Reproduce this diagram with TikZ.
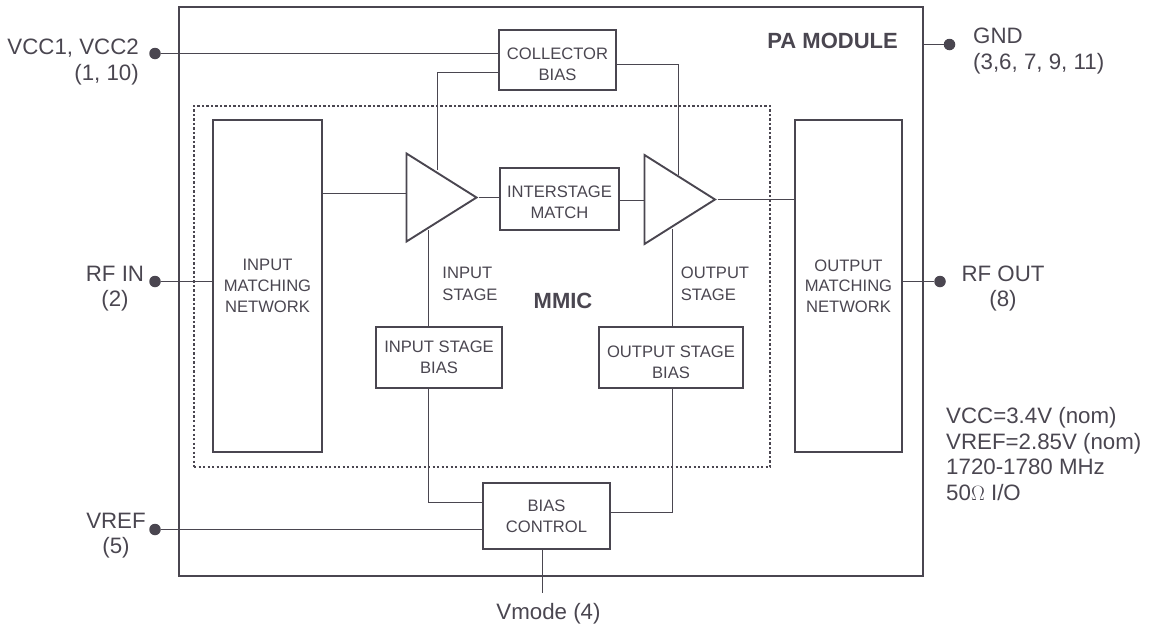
\documentclass[tikz,border=0pt]{standalone}
\usepackage{fontspec}
\setmainfont{Liberation Sans}
\usepackage{xcolor}
\usepackage{tikz}
\usetikzlibrary{shapes.geometric}
\usetikzlibrary{calc}
\definecolor{inkgray}{HTML}{4A4650}
\begin{document}
\begin{tikzpicture}[
			x=1pt,
			y=-1pt,
			every node/.style={inkgray},
			blocktext/.style={
				inner sep=0pt,
				align=center,
				text=inkgray,
				font=\fontsize{16.6}{20.7}\selectfont,
			},
			blockbox/.style={
				blocktext,
				draw=inkgray,
				line width=1.9pt,
			},
			ampbox/.style={
				draw=inkgray,
				line width=1.9pt,
				isosceles triangle,
				isosceles triangle stretches=true,
				inner sep=0pt,
				anchor=apex,
			},
			wire/.style={draw=inkgray, line width=1.1pt},
			pin/.style={circle, fill=inkgray, inner sep=0pt, minimum size=11.5pt},
			pintext/.style={align=center, inner sep=0pt, font=\fontsize{22.3}{25.7}\selectfont},
			smalltext/.style={align=left, inner sep=0pt, font=\fontsize{16.6}{21.7}\selectfont},
			boldtext/.style={inner sep=0pt, font=\fontsize{22}{25}\selectfont\bfseries},
			]
			\useasboundingbox (0,0) rectangle (1149,627);
			%% module and MMIC outlines
			\node[draw=inkgray, line width=2.1pt, minimum width=744pt, minimum height=569pt, inner sep=0pt] (module) at (551,291.5) {};
			\node[draw=inkgray, line width=2.3pt, dash pattern=on 2.2pt off 2.3pt, minimum width=576pt, minimum height=361pt, inner sep=0pt] (mmic) at (482,286.5) {};
			%% blocks
			\node[blockbox, minimum width=109.5pt, minimum height=332pt] (inmatch) at (267.5,286) {INPUT\\MATCHING\\NETWORK};
			\node[blockbox, minimum width=107.5pt, minimum height=332pt] (outmatch) at (848.5,286) {OUTPUT\\MATCHING\\NETWORK};
			\node[blockbox, minimum width=117.5pt, minimum height=60pt, label={[blocktext, yshift=-4pt]center:COLLECTOR\\BIAS}] (collector) at (557.5,60) {};
			\node[blockbox, minimum width=119.5pt, minimum height=62pt, label={[blocktext, yshift=-3pt]center:INTERSTAGE\\MATCH}] (interstage) at (559.5,199) {};
			\node[blockbox, minimum width=125.5pt, minimum height=61pt] (inbias) at (439,357.5) {INPUT STAGE\\BIAS};
			\node[blockbox, minimum width=143.5pt, minimum height=61pt, label={[blocktext, yshift=-4.5pt]center:OUTPUT STAGE\\BIAS}] (outbias) at (671,357.5) {};
			\node[blockbox, minimum width=126.5pt, minimum height=66pt] (biasctl) at (546.5,516) {BIAS\\CONTROL};
			%% amplifiers
			\node[ampbox, minimum height=70pt, minimum width=88pt] (amp1) at (479,197.5) {};
			\node[ampbox, minimum height=70.5pt, minimum width=89pt] (amp2) at (717.5,199.5) {};
			%% pins
			\node[pin] (vcc) at (155,53.5) {};
			\node[pin] (rfin) at (155,281.5) {};
			\node[pin] (vref) at (155,529.5) {};
			\node[pin] (gnd) at (949.5,44.5) {};
			\node[pin] (rfout) at (940,281.5) {};
			\coordinate (gndtap) at (module.east |- gnd);
			\coordinate (vmodeend) at (542.5,593);
			\coordinate (amp1top) at (437.5,170);
			\coordinate (amp1low) at (428.5,230);
			\coordinate (amp2top) at (678.5,175);
			\coordinate (amp2low) at (672.5,229);
			%% connectors
			\draw[wire] (vcc) -- (collector.west |- vcc);
			\draw[wire] (rfin) -- (inmatch.west |- rfin);
			\draw[wire] (vref) -- (biasctl.west |- vref);
			\draw[wire] (outmatch.east |- rfout) -- (rfout);
			\draw[wire] (gndtap) -- (gnd);
			\draw[wire] (biasctl.south -| vmodeend) -- (vmodeend);
			\draw[wire] ($(collector.west)+(0,12.5)$) -| (amp1top);
			\draw[wire] ($(collector.east)+(0,4.5)$) -| (amp2top);
			\draw[wire] (inmatch.east |- 0,193.5) -- (amp1.west |- 0,193.5);
			\draw[wire] (amp1.apex) -- (interstage.west |- amp1.apex);
			\draw[wire] (interstage.east |- 0,200.5) -- (amp2.west |- 0,200.5);
			\draw[wire] (amp2.apex) -- (outmatch.west |- amp2.apex);
			\draw[wire] (amp1low) -- (inbias.north -| amp1low);
			\draw[wire] (amp2low) -- (outbias.north -| amp2low);
			\draw[wire] (inbias.south -| amp1low) |- ($(biasctl.west)+(0,-13.5)$);
			\draw[wire] (outbias.south -| amp2low) |- ($(biasctl.east)+(0,-3.5)$);
			%% labels
			\node[boldtext, anchor=base east] (pamodule) at (898,48) {PA MODULE};
			\node[boldtext, anchor=base] (mmiclabel) at (563,308) {MMIC};
			\node[smalltext] (instage) at (470,284) {INPUT\\STAGE};
			\node[smalltext] (outstage) at (715,284) {OUTPUT\\STAGE};
			\node[pintext, align=right, anchor=east] (vcctext) at (139,62) {VCC1, VCC2\\(1, 10)};
			\node[pintext] (rfintext) at (115,288.5) {RF IN\\(2)};
			\node[pintext] (vreftext) at (116,535.5) {VREF\\(5)};
			\node[pintext, align=left, anchor=west] (gndtext) at (973,51) {GND\\(3,6, 7, 9, 11)};
			\node[pintext] (rfouttext) at (1003,288.5) {RF OUT\\(8)};
			\node[pintext, anchor=base] (vmodetext) at (548.5,619) {Vmode (4)};
			\node[pintext, align=left, anchor=west] (spectext) at (946,454) {VCC=3.4V (nom)\\VREF=2.85V (nom)\\1720-1780 MHz\\50$\Omega$ I/O};
		\end{tikzpicture}
\end{document}
